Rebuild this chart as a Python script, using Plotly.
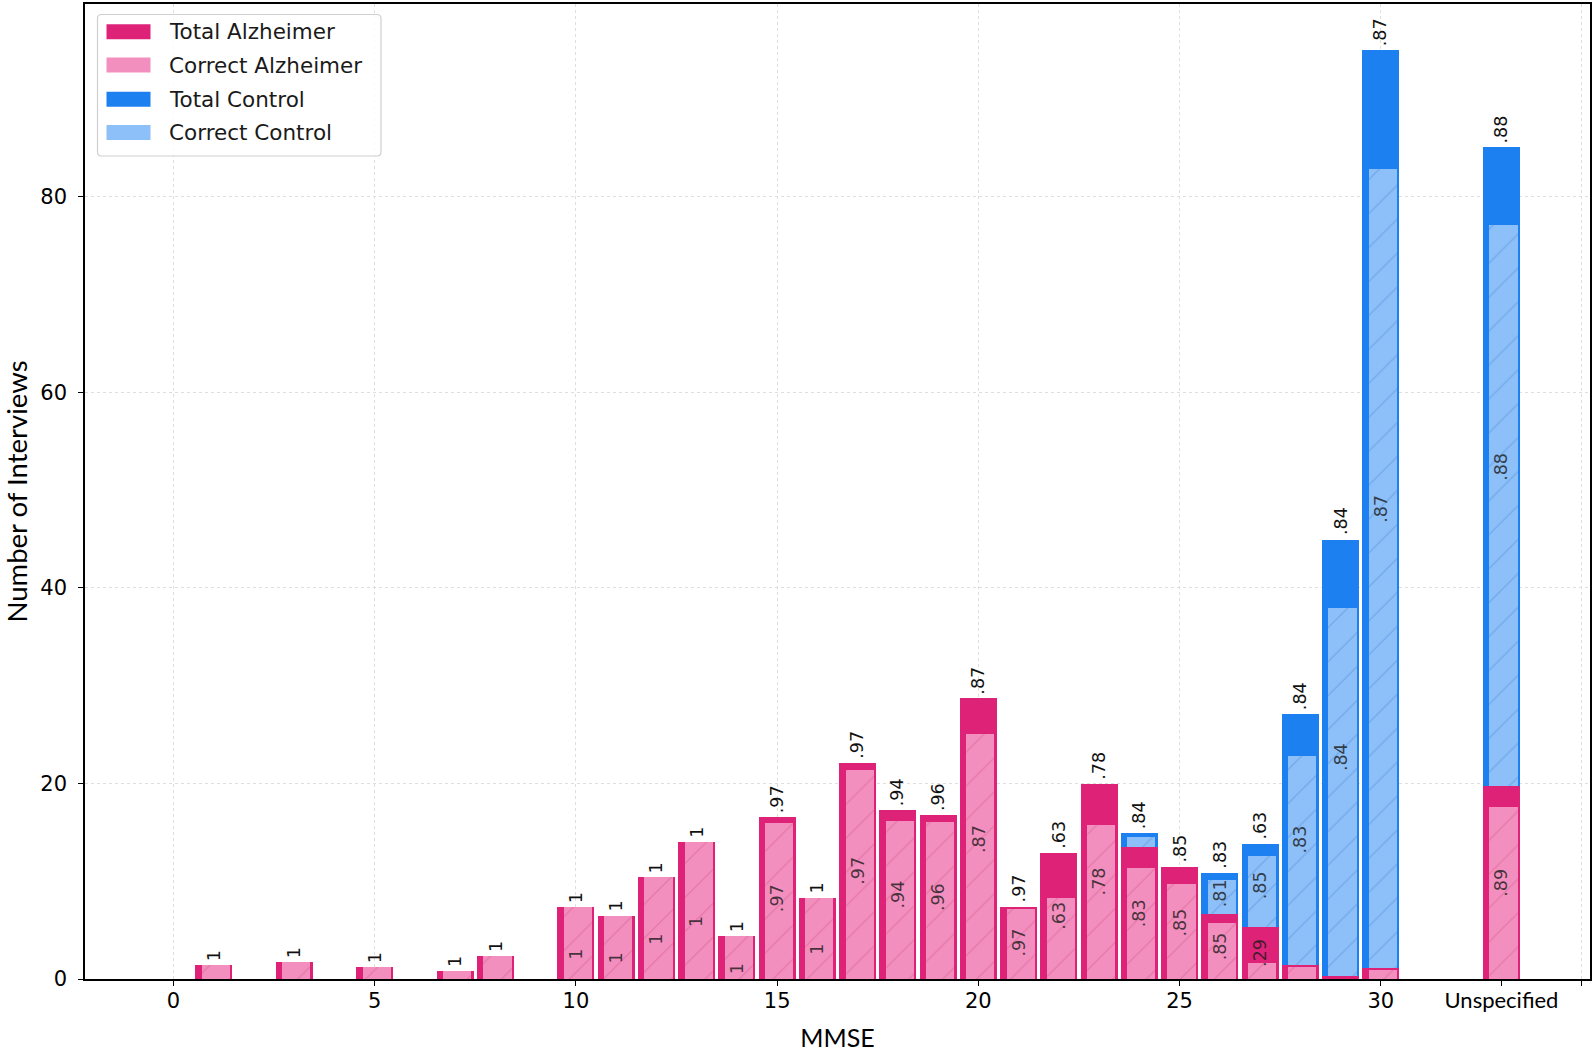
import plotly.graph_objects as go

# ---------------- data ----------------
mmse = [1, 3, 5, 7, 8, 10, 11, 12, 13, 14, 15, 16, 17, 18, 19, 20, 21, 22, 23,
        24, 25, 26, 27, 28, 29, 30, 33]
total_alz = [1.43, 1.70, 1.22, 0.78, 2.35, 7.38, 6.46, 10.38, 14.05, 4.42, 16.56,
             8.32, 22.07, 17.24, 16.77, 28.7, 7.38, 12.89, 19.97, 13.5, 11.46,
             6.63, 5.34, 1.46, 0.34, 1.15, 19.77]
correct_alz = [1.43, 1.70, 1.22, 0.78, 2.35, 7.38, 6.46, 10.38, 14.05, 4.42, 16.0,
               8.32, 21.4, 16.2, 16.1, 25.1, 7.15, 8.3, 15.7, 11.3, 9.75,
               5.7, 1.6, 1.2, 0.0, 0.95, 17.6]
total_ctrl = [0, 0, 0, 0, 0, 0, 0, 0, 0, 0, 0, 0, 0, 0, 0, 0, 0, 0, 0,
              1.43, 0, 4.22, 8.51, 25.65, 44.6, 93.8, 65.3]
correct_ctrl = [0, 0, 0, 0, 0, 0, 0, 0, 0, 0, 0, 0, 0, 0, 0, 0, 0, 0, 0,
                1.05, 0, 3.5, 7.2, 21.3, 37.6, 81.7, 57.3]
top_label = ["1", "1", "1", "1", "1", "1", "1", "1", "1", "1", ".97", "1", ".97",
             ".94", ".96", ".87", ".97", ".63", ".78", ".84", ".85", ".83", ".63",
             ".84", ".84", ".87", ".88"]
alz_label = ["", "", "", "", "", "1", "1", "1", "1", "1", ".97", "1", ".97",
             ".94", ".96", ".87", ".97", ".63", ".78", ".83", ".85", ".85", ".29",
             "", "", "", ".89"]
ctrl_label = ["", "", "", "", "", "", "", "", "", "", "", "", "", "", "", "", "",
              "", "", "", "", ".81", ".85", ".83", ".84", ".87", ".88"]
x_tickvals = [0, 5, 10, 15, 20, 25, 30, 33, 35]
x_ticktext = ["0", "5", "10", "15", "20", "25", "30",
              '<span style="font-family:Lato;font-size:22px">Unspecified</span>', ""]
x_gridvals = [0, 5, 10, 15, 20, 25, 30, 35]
y_tickvals = [0, 20, 40, 60, 80]
series_names = ["Total Alzheimer", "Correct Alzheimer", "Total Control", "Correct Control"]

# ---------------- styles ----------------
C_TA = "#DE2278"
C_CA = "#F38FBE"
C_TC = "#1C80F0"
C_CC = "#8DBFF8"
HATCH_A = "#C8497F"
HATCH_C = "#3F7FD0"
W_OUT = 0.92
W_IN = 0.70
OFF_IN = -0.30
FONT = "DejaVu Sans"
LBL = 17.5

fig = go.Figure()
fig.add_trace(go.Bar(name=series_names[0], x=mmse, y=total_alz, width=W_OUT,
                     marker=dict(color=C_TA, line=dict(width=0)), showlegend=False))
fig.add_trace(go.Bar(name=series_names[1], x=mmse, y=correct_alz, width=W_IN, offset=OFF_IN,
                     marker=dict(color=C_CA, line=dict(width=0),
                                 pattern=dict(shape="/", bgcolor=C_CA, fgcolor=HATCH_A,
                                              fgopacity=0.4, size=24, solidity=0.05)),
                     showlegend=False))
fig.add_trace(go.Bar(name=series_names[2], x=mmse, y=total_ctrl, base=total_alz, width=W_OUT,
                     marker=dict(color=C_TC, line=dict(width=0)), showlegend=False))
fig.add_trace(go.Bar(name=series_names[3], x=mmse, y=correct_ctrl, base=total_alz, width=W_IN,
                     offset=OFF_IN,
                     marker=dict(color=C_CC, line=dict(width=0),
                                 pattern=dict(shape="/", bgcolor=C_CC, fgcolor=HATCH_C,
                                              fgopacity=0.4, size=24, solidity=0.05)),
                     showlegend=False))

annotations = []
for i, xv in enumerate(mmse):
    top = total_alz[i] + total_ctrl[i]
    annotations.append(dict(x=xv, y=top, xref="x", yref="y", text=top_label[i],
                            showarrow=False, textangle=-90, yanchor="bottom",
                            xanchor="center", yshift=2,
                            font=dict(family=FONT, size=LBL, color="#111")))
    if alz_label[i]:
        annotations.append(dict(x=xv, y=total_alz[i] / 2, xref="x", yref="y",
                                text=alz_label[i], showarrow=False, textangle=-90,
                                yanchor="middle", xanchor="center",
                                yshift=-11 if alz_label[i] == "1" else 0,
                                font=dict(family=FONT, size=LBL, color="rgba(25,25,25,0.8)")))
    if ctrl_label[i]:
        annotations.append(dict(x=xv, y=total_alz[i] + total_ctrl[i] / 2, xref="x", yref="y",
                                text=ctrl_label[i], showarrow=False, textangle=-90,
                                yanchor="middle", xanchor="center",
                                font=dict(family=FONT, size=LBL, color="rgba(25,25,25,0.8)")))

# ---------------- custom legend (pixel offsets from plot top-left) ----------------
shapes = []
bx0, bx1, by0, by1, r = 12.5, 296, -10.5, -152, 4
path = (f"M{bx0 + r},{by0} L{bx1 - r},{by0} Q{bx1},{by0} {bx1},{by0 - r} "
        f"L{bx1},{by1 + r} Q{bx1},{by1} {bx1 - r},{by1} L{bx0 + r},{by1} "
        f"Q{bx0},{by1} {bx0},{by1 + r} L{bx0},{by0 - r} Q{bx0},{by0} {bx0 + r},{by0} Z")
shapes.append(dict(type="path", xref="paper", yref="paper", xsizemode="pixel",
                   ysizemode="pixel", xanchor=0, yanchor=1, path=path,
                   line=dict(color="#cfcfcf", width=1.2), fillcolor="rgba(255,255,255,0.85)",
                   layer="above"))
leg_colors = [C_TA, C_CA, C_TC, C_CC]
leg_y = [27.7, 61.0, 95.2, 128.5]
for name, col, yc in zip(series_names, leg_colors, leg_y):
    shapes.append(dict(type="rect", xref="paper", yref="paper", xsizemode="pixel",
                       ysizemode="pixel", xanchor=0, yanchor=1,
                       x0=21.5, x1=65.5, y0=-(yc - 7.5), y1=-(yc + 7.5),
                       line=dict(width=0), fillcolor=col, layer="above"))
    annotations.append(dict(x=0, y=1, xref="paper", yref="paper", xshift=81.5, yshift=-yc,
                            xanchor="left", yanchor="middle", text=name, showarrow=False,
                            font=dict(family=FONT, size=21.5, color="#1a1a1a")))

fig.update_layout(
    width=1594, height=1052,
    margin=dict(l=85, r=3, t=2, b=73),
    barmode="overlay",
    bargap=0,
    plot_bgcolor="white", paper_bgcolor="white",
    font=dict(family=FONT, size=21, color="black"),
    annotations=annotations,
    shapes=shapes,
    showlegend=False,
)
fig.update_xaxes(
    range=[-2.2, 35.2],
    tickmode="array", tickvals=x_tickvals, ticktext=x_ticktext,
    ticks="outside", ticklen=5, tickwidth=1.3, tickcolor="black",
    ticklabelstandoff=-3,
    showgrid=False, zeroline=False,
    showline=True, linecolor="black", linewidth=1.6, mirror=True,
    tickfont=dict(family=FONT, size=21, color="black"),
    minor=dict(tickmode="array", tickvals=x_gridvals, showgrid=True, gridcolor="#dedede",
               gridwidth=1, griddash="dot", ticks=""),
    title=dict(text="MMSE", font=dict(family="Lato", size=25, color="black"), standoff=18),
)
fig.update_yaxes(
    range=[0, 99.7],
    tickmode="array", tickvals=y_tickvals,
    ticks="outside", ticklen=5, tickwidth=1.3, tickcolor="black",
    ticklabelstandoff=7,
    showgrid=True, gridcolor="#dedede", gridwidth=1, griddash="dot",
    zeroline=False,
    showline=True, linecolor="black", linewidth=1.6, mirror=True,
    tickfont=dict(family=FONT, size=21, color="black"),
    title=dict(text="Number of Interviews", font=dict(family="Lato", size=27.5, color="black"),
               standoff=18),
)

fig.write_html("out.html", config={"displayModeBar": False},
               post_script="document.body.style.margin='0';document.body.style.overflow='hidden';")
